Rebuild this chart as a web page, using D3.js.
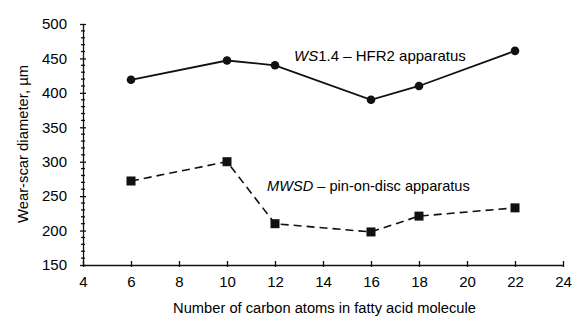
<!DOCTYPE html>
<html><head><meta charset="utf-8">
<script src="https://cdn.jsdelivr.net/npm/d3@7"></script>
<style>body{margin:0;background:#fff}svg{display:block}text{font-family:"Liberation Sans",Arial,sans-serif;fill:#000}</style>
</head><body><svg id="c" width="583" height="329"></svg>
<script>
const carbonAtoms = [6, 10, 12, 16, 18, 22];
const ws14 = [419, 447, 440, 390, 410, 461];
const mwsd = [272, 300, 210, 198, 221, 233];
const xTicks = [4, 6, 8, 10, 12, 14, 16, 18, 20, 22, 24];
const yTicks = [150, 200, 250, 300, 350, 400, 450, 500];

const svg = d3.select("#c");
const x = d3.scaleLinear().domain([4, 24]).range([83, 563]);
const y = d3.scaleLinear().domain([150, 500]).range([265, 24]);

// x axis
const xa = svg.append("g").attr("transform", `translate(0,${y(150)})`)
  .call(d3.axisBottom(x).tickValues(xTicks).tickSize(3).tickPadding(8).tickSizeOuter(0));
xa.selectAll(".tick line").attr("y1", -4).attr("y2", 2);
// y axis
const ya = svg.append("g").attr("transform", `translate(${x(4)},0)`)
  .call(d3.axisLeft(y).tickValues(yTicks).tickSize(3).tickPadding(13).tickSizeOuter(0));
ya.selectAll(".tick line").attr("x1", -3).attr("x2", 3);
// minor y ticks
ya.selectAll(".minor").data(d3.range(160, 500, 10).filter(v => v % 50 !== 0)).enter()
  .append("line").attr("class", "minor").attr("x1", -2).attr("x2", 2)
  .attr("y1", d => y(d)).attr("y2", d => y(d)).attr("stroke", "#111");
[xa, ya].forEach(a => {
  a.selectAll("path, line").attr("stroke", "#111").attr("stroke-width", 1.3);
  a.selectAll("text").style("font-size", "15px").style("font-family", '"Liberation Sans",Arial,sans-serif').attr("fill", "#000");
});

const line = d3.line().x((d, i) => x(carbonAtoms[i])).y(d => y(d));
svg.append("path").datum(ws14).attr("d", line).attr("fill", "none").attr("stroke", "#111").attr("stroke-width", 1.8);
svg.append("path").datum(mwsd).attr("d", line).attr("fill", "none").attr("stroke", "#111").attr("stroke-width", 1.6).attr("stroke-dasharray", "8,5");
svg.selectAll(".dot").data(ws14).enter().append("circle")
  .attr("cx", (d, i) => x(carbonAtoms[i])).attr("cy", d => y(d)).attr("r", 4.3).attr("fill", "#111");
svg.selectAll(".sq").data(mwsd).enter().append("rect")
  .attr("x", (d, i) => x(carbonAtoms[i]) - 4.5).attr("y", d => y(d) - 4.5).attr("width", 9).attr("height", 9).attr("fill", "#111");

// labels
const t1 = svg.append("text").attr("x", 294).attr("y", 61).style("font-size", "15px");
t1.append("tspan").style("font-style", "italic").text("WS");
t1.append("tspan").text("1.4 – HFR2 apparatus");
const t2 = svg.append("text").attr("x", 267).attr("y", 191).style("font-size", "14.6px");
t2.append("tspan").style("font-style", "italic").text("MWSD");
t2.append("tspan").text(" – pin-on-disc apparatus");

svg.append("text").attr("x", 324.5).attr("y", 313).attr("text-anchor", "middle").style("font-size", "14.7px")
  .text("Number of carbon atoms in fatty acid molecule");
svg.append("text").attr("transform", `translate(28,144) rotate(-90)`).attr("text-anchor", "middle").style("font-size", "15px")
  .attr("textLength", 158).attr("lengthAdjust", "spacingAndGlyphs")
  .text("Wear-scar diameter, µm");
</script></body></html>
